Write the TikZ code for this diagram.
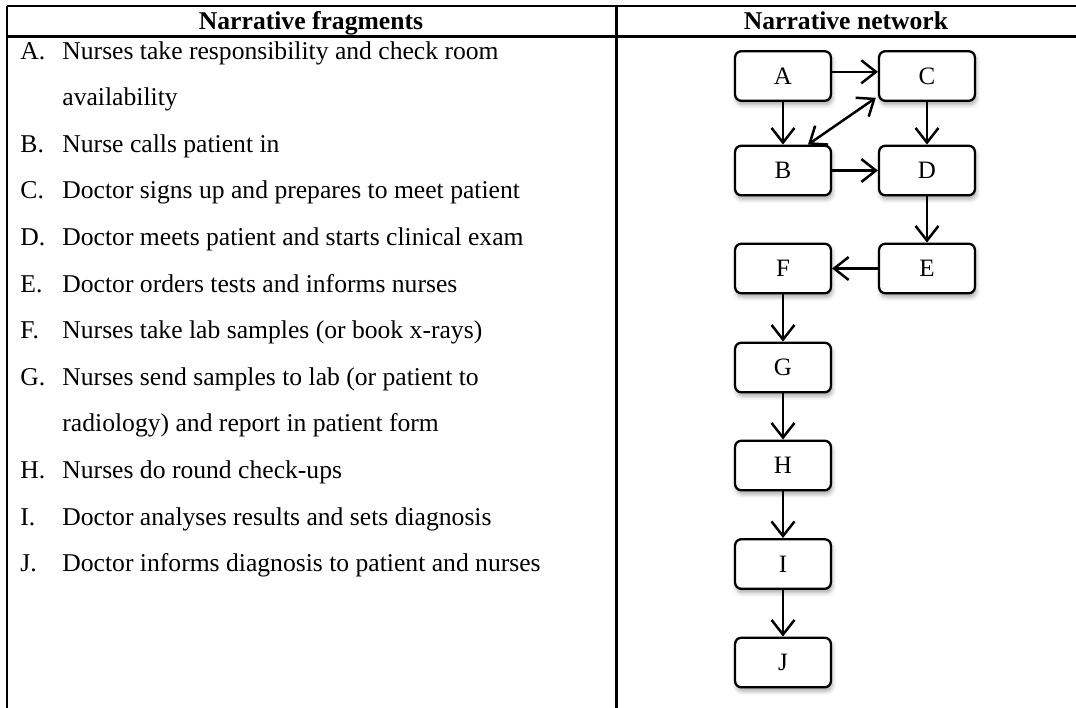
\documentclass[tikz,border=0pt]{standalone}
\usepackage{fontspec}
\setmainfont{Liberation Serif}
\usetikzlibrary{arrows.meta,shadows.blur}
\begin{document}
\begin{tikzpicture}[x=0.48pt,y=-0.48pt,
  rule/.style={line width=1pt},
  box/.style={draw, line width=1.1pt, rounded corners=3pt, minimum width=46pt, minimum height=23.8pt,
    fill=white, inner sep=0pt, font=\fontsize{12}{14}\selectfont,
    blur shadow={shadow xshift=0.6pt, shadow yshift=-1.8pt, shadow blur radius=2pt, shadow opacity=35}},
  arr/.style={line width=1.2pt, -{Straight Barb[length=7pt,width=11pt]}},
  darr/.style={line width=1.2pt, {Straight Barb[length=7pt,width=11pt]}-{Straight Barb[length=7pt,width=11pt]}},
  lbl/.style={anchor=base west, inner sep=0pt, font=\fontsize{12.3}{14}\selectfont},
  hdr/.style={anchor=base, inner sep=0pt, font=\fontsize{12.3}{14}\selectfont\bfseries}]
\useasboundingbox (0,0) rectangle (1076,708);
% table rules
\draw[rule] (7,6) -- (1076,6);
\draw[rule] (7,36.5) -- (1076,36.5);
\draw[rule] (7,6) -- (7,708);
\draw[rule] (616.5,6) -- (616.5,708);
% headers
\node[hdr] (h1) at (311,29) {Narrative fragments};
\node[hdr] (h2) at (846,29) {Narrative network};
% fragments
\node[lbl] (lA) at (20,59) {A.};  \node[lbl] (tA) at (62,59) {Nurses take responsibility and check room};
\node[lbl] (tA2) at (62,105.6) {availability};
\node[lbl] (lB) at (20,152.2) {B.}; \node[lbl] (tB) at (62,152.2) {Nurse calls patient in};
\node[lbl] (lC) at (20,198.8) {C.}; \node[lbl] (tC) at (62,198.8) {Doctor signs up and prepares to meet patient};
\node[lbl] (lD) at (20,245.4) {D.}; \node[lbl] (tD) at (62,245.4) {Doctor meets patient and starts clinical exam};
\node[lbl] (lE) at (20,292) {E.}; \node[lbl] (tE) at (62,292) {Doctor orders tests and informs nurses};
\node[lbl] (lF) at (20,338.6) {F.}; \node[lbl] (tF) at (62,338.6) {Nurses take lab samples (or book x-rays)};
\node[lbl] (lG) at (20,385.2) {G.}; \node[lbl] (tG) at (62,385.2) {Nurses send samples to lab (or patient to};
\node[lbl] (tG2) at (62,431.8) {radiology) and report in patient form};
\node[lbl] (lH) at (20,478.4) {H.}; \node[lbl] (tH) at (62,478.4) {Nurses do round check-ups};
\node[lbl] (lI) at (20,525) {I.};  \node[lbl] (tI) at (62,525) {Doctor analyses results and sets diagnosis};
\node[lbl] (lJ) at (20,571.6) {J.};  \node[lbl] (tJ) at (62,571.6) {Doctor informs diagnosis to patient and nurses};
% network
\node[box] (A) at (783,76) {A};
\node[box] (C) at (927,76) {C};
\node[box] (B) at (783,170.5) {B};
\node[box] (D) at (927,170.5) {D};
\node[box] (E) at (927,268.5) {E};
\node[box] (F) at (783,268.5) {F};
\node[box] (G) at (783,367.5) {G};
\node[box] (H) at (783,465.5) {H};
\node[box] (I) at (783,564) {I};
\node[box] (J) at (783,662.5) {J};
\draw[arr] ([yshift=2pt]A.east) -- ([yshift=2pt]C.west);
\draw[arr] (A.south) -- (B.north);
\draw[darr] ([xshift=12pt]B.north) -- ([xshift=-1pt,yshift=2pt]C.south west);
\draw[arr] (C.south) -- (D.north);
\draw[arr] (B.east) -- (D.west);
\draw[arr] (D.south) -- (E.north);
\draw[arr] (E.west) -- (F.east);
\draw[arr] (F.south) -- (G.north);
\draw[arr] (G.south) -- (H.north);
\draw[arr] (H.south) -- (I.north);
\draw[arr] (I.south) -- (J.north);
\end{tikzpicture}
\end{document}
